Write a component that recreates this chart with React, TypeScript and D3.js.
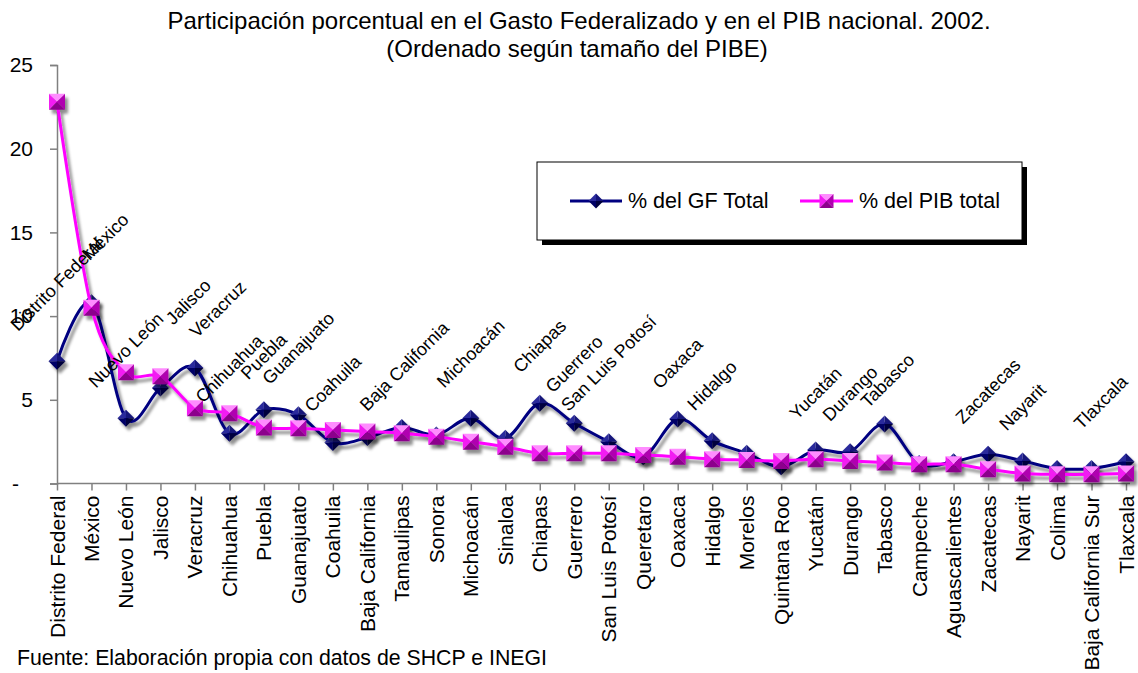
import * as d3 from "d3";
import { useEffect, useRef } from "react";

const states = [
  "Distrito Federal", "México", "Nuevo León", "Jalisco", "Veracruz", "Chihuahua",
  "Puebla", "Guanajuato", "Coahuila", "Baja California", "Tamaulipas", "Sonora",
  "Michoacán", "Sinaloa", "Chiapas", "Guerrero", "San Luis Potosí", "Queretaro",
  "Oaxaca", "Hidalgo", "Morelos", "Quintana Roo", "Yucatán", "Durango", "Tabasco",
  "Campeche", "Aguascalientes", "Zacatecas", "Nayarit", "Colima",
  "Baja California Sur", "Tlaxcala",
];

// % del GF Total
const gfValues = [
  7.3, 10.8, 3.9, 5.7, 6.9, 3.0, 4.4, 4.1, 2.45, 2.75, 3.35, 2.9,
  3.9, 2.7, 4.8, 3.6, 2.5, 1.6, 3.85, 2.55, 1.8, 1.0, 2.0, 1.9, 3.55,
  1.2, 1.3, 1.75, 1.35, 0.9, 0.9, 1.3,
];

// % del PIB total
const pibValues = [
  22.8, 10.5, 6.65, 6.4, 4.5, 4.2, 3.35, 3.3, 3.2, 3.1, 3.0, 2.8,
  2.5, 2.2, 1.8, 1.8, 1.8, 1.7, 1.6, 1.45, 1.4, 1.35, 1.45, 1.35, 1.25,
  1.15, 1.15, 0.85, 0.6, 0.55, 0.55, 0.6,
];

// states that carry a data label on the GF series
const labeled = [
  "Distrito Federal", "México", "Nuevo León", "Jalisco", "Veracruz", "Chihuahua",
  "Puebla", "Guanajuato", "Coahuila", "Baja California", "Michoacán", "Chiapas",
  "Guerrero", "San Luis Potosí", "Oaxaca", "Hidalgo", "Yucatán", "Durango",
  "Tabasco", "Zacatecas", "Nayarit", "Tlaxcala",
];

const yTicks = [0, 5, 10, 15, 20, 25];
const seriesNames = ["% del GF Total", "% del PIB total"];

export default function App() {
  const ref = useRef<SVGSVGElement | null>(null);

  useEffect(() => {
    const width = 1138;
    const height = 673;
    const font = "'Liberation Sans', Arial, sans-serif";

    const svg = d3.select(ref.current).attr("width", width).attr("height", height);
    svg.selectAll("*").remove();

    const defs = svg.append("defs");
    defs
      .append("filter")
      .attr("id", "shadow")
      .attr("x", "-20%")
      .attr("y", "-20%")
      .attr("width", "140%")
      .attr("height", "140%")
      .append("feDropShadow")
      .attr("dx", 3)
      .attr("dy", 4)
      .attr("stdDeviation", 1.6)
      .attr("flood-color", "#000")
      .attr("flood-opacity", 0.45);

    const x = d3.scalePoint<string>().domain(states).range([57, 1126]);
    const y = d3.scaleLinear().domain([0, 25]).range([483.5, 65]);

    // Title
    const title = svg
      .append("text")
      .attr("text-anchor", "middle")
      .attr("font-family", font)
      .attr("font-size", 24)
      .attr("fill", "#000");
    title.append("tspan").attr("x", 579).attr("y", 28.5)
      .text("Participación porcentual en el Gasto Federalizado y en el PIB nacional. 2002.");
    title.append("tspan").attr("x", 577).attr("y", 56.5)
      .text("(Ordenado según tamaño del PIBE)");

    // Y axis
    const yAxis = svg
      .append("g")
      .attr("transform", "translate(57,0)")
      .call(
        d3.axisLeft(y).tickValues(yTicks).tickSize(7).tickPadding(17)
          .tickFormat((d) => (d === 0 ? "-" : String(d)))
      );
    yAxis.select(".domain").attr("stroke", "#808080").attr("stroke-width", 1.5);
    yAxis.selectAll(".tick line").attr("stroke", "#808080").attr("stroke-width", 1.5);
    yAxis.selectAll(".tick text")
      .attr("font-family", font).attr("font-size", 21).attr("fill", "#000");
    yAxis.selectAll(".tick text").filter((d) => d === 0)
      .attr("text-anchor", "start").attr("x", -45);

    // X axis
    const xAxis = svg
      .append("g")
      .attr("transform", `translate(0,${y(0)})`)
      .call(d3.axisBottom(x).tickSize(7).tickSizeOuter(0).tickPadding(0));
    xAxis.select(".domain").attr("stroke", "#808080").attr("stroke-width", 1.5)
      .attr("d", `M57,0H1130`);
    xAxis.selectAll(".tick line").attr("stroke", "#808080").attr("stroke-width", 1.5);
    xAxis.selectAll(".tick text")
      .attr("font-family", font)
      .attr("font-size", 21)
      .attr("fill", "#000")
      .attr("text-anchor", "end")
      .attr("dy", null)
      .attr("y", 0)
      .attr("transform", "translate(7,12) rotate(-90)");

    const line = (vals: number[]) =>
      d3.line<number>()
        .x((_, i) => x(states[i]) as number)
        .y((v) => y(v))
        .curve(d3.curveCardinal.tension(0))(vals);

    // GF series
    const gfG = svg.append("g").attr("filter", "url(#shadow)");
    gfG.append("path").attr("d", line(gfValues)).attr("fill", "none")
      .attr("stroke", "#000080").attr("stroke-width", 3);

    const diamond = (g: any, cx: number, cy: number, r: number) => {
      const facets = [
        { p: [[cx - r, cy], [cx, cy - r], [cx, cy]], c: "#2b2b9c" },
        { p: [[cx, cy - r], [cx + r, cy], [cx, cy]], c: "#14147a" },
        { p: [[cx - r, cy], [cx, cy + r], [cx, cy]], c: "#000066" },
        { p: [[cx, cy + r], [cx + r, cy], [cx, cy]], c: "#00003d" },
      ];
      facets.forEach((f) =>
        g.append("polygon").attr("points", f.p.map((q) => q.join(",")).join(" ")).attr("fill", f.c)
      );
    };
    const square = (g: any, cx: number, cy: number, r: number) => {
      const a = [cx - r, cy - r], b = [cx + r, cy - r], c = [cx + r, cy + r], d = [cx - r, cy + r];
      const ci = [cx, cy];
      const facets = [
        { p: [a, b, ci], c: "#ff8cff" },
        { p: [a, d, ci], c: "#f21cf2" },
        { p: [b, c, ci], c: "#b000b0" },
        { p: [d, c, ci], c: "#8c008c" },
      ];
      facets.forEach((f) =>
        g.append("polygon").attr("points", f.p.map((q) => q.join(",")).join(" ")).attr("fill", f.c)
      );
    };

    gfValues.forEach((v, i) => diamond(gfG, x(states[i]) as number, y(v), 8.5));

    // PIB series
    const pibG = svg.append("g").attr("filter", "url(#shadow)");
    pibG.append("path").attr("d", line(pibValues)).attr("fill", "none")
      .attr("stroke", "#ff00ff").attr("stroke-width", 3);
    pibValues.forEach((v, i) => square(pibG, x(states[i]) as number, y(v), 8));

    // Data labels (category names), rotated 45°
    const nudge: Record<string, [number, number]> = {
      "México": [14, -12],
      "Jalisco": [28, -33],
      "Veracruz": [23, 0],
      "Baja California": [37, 4],
      "Tabasco": [3, 14],
      "Tlaxcala": [-25, -2],
    };
    const lblG = svg.append("g");
    labeled.forEach((name) => {
      const i = states.indexOf(name);
      const px = x(name) as number;
      const py = y(gfValues[i]);
      const t = lblG.append("text")
        .attr("font-family", font)
        .attr("font-size", 18)
        .attr("fill", "#000")
        .attr("text-anchor", "middle")
        .attr("dominant-baseline", "central")
        .text(name);
      const L = (t.node() as SVGTextElement).getComputedTextLength();
      const half = (L / 2 + 8) * Math.SQRT1_2;
      const [dx, dy] = nudge[name] || [0, 0];
      const cx = px + dx;
      const cy = py - 28 - half + dy;
      t.attr("transform", `translate(${cx},${cy}) rotate(-45)`);
    });

    // Legend
    const lg = svg.append("g");
    lg.append("rect").attr("x", 542).attr("y", 167).attr("width", 485).attr("height", 78).attr("fill", "#000");
    lg.append("rect").attr("x", 537).attr("y", 162).attr("width", 485).attr("height", 78)
      .attr("fill", "#fff").attr("stroke", "#000").attr("stroke-width", 1);
    const legendItems = [
      { x0: 570, x1: 622, tx: 628, color: "#000080", name: seriesNames[0], kind: "d" },
      { x0: 800, x1: 853, tx: 859, color: "#ff00ff", name: seriesNames[1], kind: "s" },
    ];
    legendItems.forEach((it) => {
      lg.append("line").attr("x1", it.x0).attr("x2", it.x1).attr("y1", 201).attr("y2", 201)
        .attr("stroke", it.color).attr("stroke-width", 3);
      const mx = (it.x0 + it.x1) / 2;
      if (it.kind === "d") diamond(lg, mx, 201, 7.5);
      else square(lg, mx, 201, 7);
      lg.append("text").attr("x", it.tx).attr("y", 208).attr("font-family", font)
        .attr("font-size", 21.5).attr("fill", "#000").text(it.name);
    });

    // Source
    svg.append("text").attr("x", 17).attr("y", 665).attr("font-family", font)
      .attr("font-size", 21.3).attr("fill", "#000")
      .text("Fuente: Elaboración propia con datos de SHCP e INEGI");
  }, []);

  return (
    <svg
      ref={ref}
      style={{ position: "absolute", left: 0, top: 0, background: "#fff" }}
    />
  );
}
